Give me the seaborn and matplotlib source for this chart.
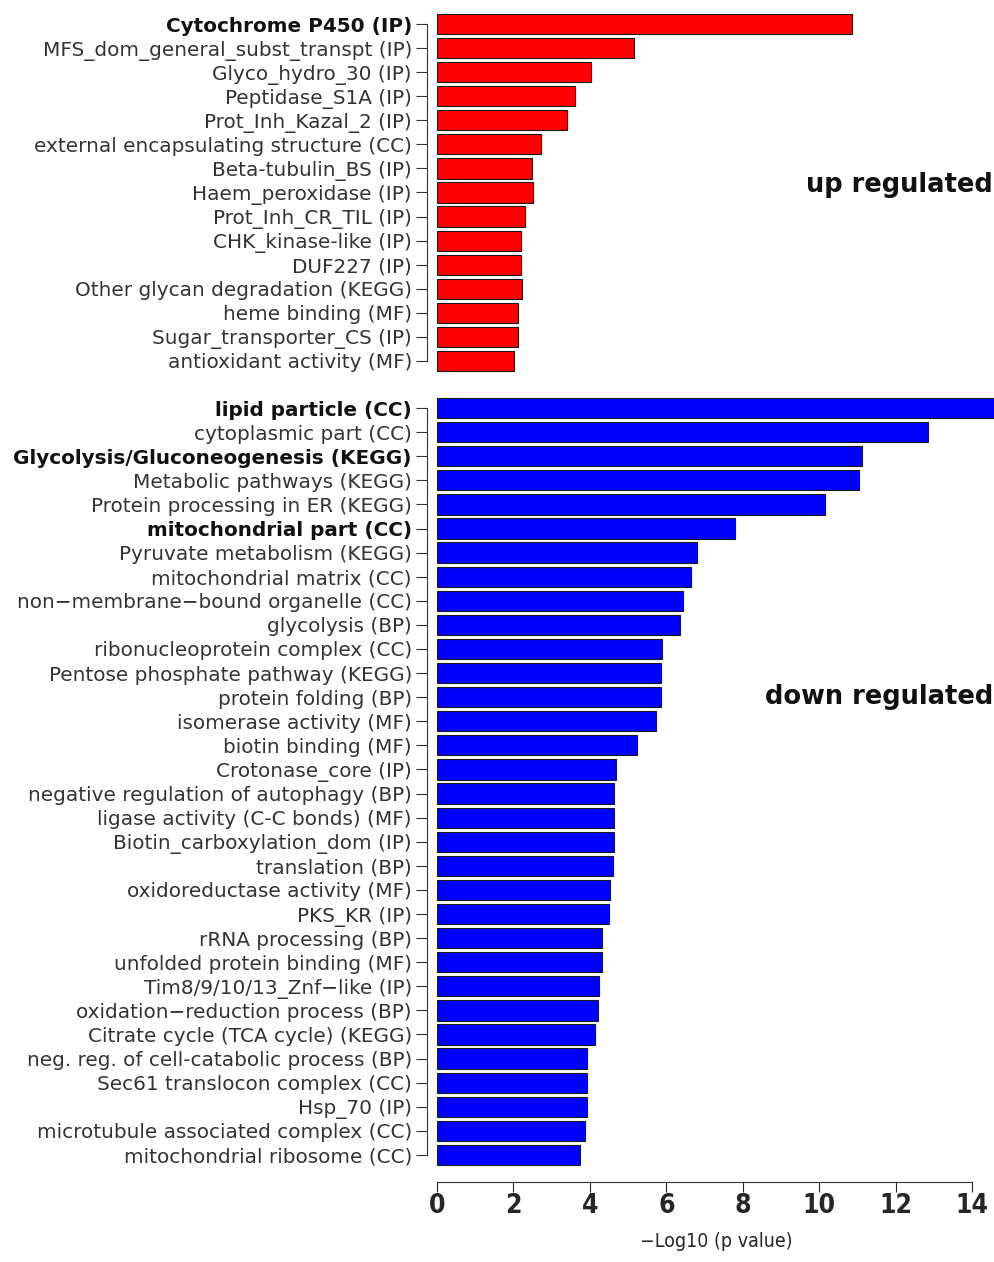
import numpy as np
import pandas as pd
import matplotlib.pyplot as plt
import seaborn as sns

# data
up_terms = ['Cytochrome P450 (IP)', 'MFS_dom_general_subst_transpt (IP)', 'Glyco_hydro_30 (IP)',
            'Peptidase_S1A (IP)', 'Prot_Inh_Kazal_2 (IP)', 'external encapsulating structure (CC)',
            'Beta-tubulin_BS (IP)', 'Haem_peroxidase (IP)', 'Prot_Inh_CR_TIL (IP)',
            'CHK_kinase-like (IP)', 'DUF227 (IP)', 'Other glycan degradation (KEGG)',
            'heme binding (MF)', 'Sugar_transporter_CS (IP)', 'antioxidant activity (MF)']
up_vals = [10.86, 5.16, 4.03, 3.60, 3.41, 2.73, 2.48, 2.50, 2.30, 2.20, 2.20, 2.22, 2.13, 2.13, 2.01]

down_terms = ['lipid particle (CC)', 'cytoplasmic part (CC)', 'Glycolysis/Gluconeogenesis (KEGG)',
              'Metabolic pathways (KEGG)', 'Protein processing in ER (KEGG)', 'mitochondrial part (CC)',
              'Pyruvate metabolism (KEGG)', 'mitochondrial matrix (CC)',
              'non\u2212membrane\u2212bound organelle (CC)', 'glycolysis (BP)',
              'ribonucleoprotein complex (CC)', 'Pentose phosphate pathway (KEGG)',
              'protein folding (BP)', 'isomerase activity (MF)', 'biotin binding (MF)',
              'Crotonase_core (IP)', 'negative regulation of autophagy (BP)',
              'ligase activity (C-C bonds) (MF)', 'Biotin_carboxylation_dom (IP)', 'translation (BP)',
              'oxidoreductase activity (MF)', 'PKS_KR (IP)', 'rRNA processing (BP)',
              'unfolded protein binding (MF)', 'Tim8/9/10/13_Znf\u2212like (IP)',
              'oxidation\u2212reduction process (BP)', 'Citrate cycle (TCA cycle) (KEGG)',
              'neg. reg. of cell-catabolic process (BP)', 'Sec61 translocon complex (CC)',
              'Hsp_70 (IP)', 'microtubule associated complex (CC)', 'mitochondrial ribosome (CC)']
down_vals = [14.9, 12.84, 11.12, 11.03, 10.14, 7.81, 6.81, 6.65, 6.44, 6.35, 5.88, 5.87, 5.85,
             5.74, 5.24, 4.69, 4.62, 4.62, 4.62, 4.61, 4.53, 4.49, 4.33, 4.31, 4.23, 4.21, 4.13,
             3.93, 3.93, 3.93, 3.88, 3.73]

bold_terms = ['Cytochrome P450 (IP)', 'lipid particle (CC)',
              'Glycolysis/Gluconeogenesis (KEGG)', 'mitochondrial part (CC)']

xticks = [0, 2, 4, 6, 8, 10, 12, 14]

sns.set_style('ticks')
plt.rcParams['font.family'] = ['DejaVu Sans']
plt.rcParams['text.color'] = '#222222'
plt.rcParams['axes.edgecolor'] = '#333333'

W, H = 995, 1262
fig = plt.figure(figsize=(W / 100, H / 100), dpi=100)
ax_up = fig.add_axes([437 / W, 1 - 373 / H, 558 / W, 361 / H])
ax_dn = fig.add_axes([437 / W, 1 - 1167 / H, 558 / W, 771 / H])

panels = [(ax_up, up_terms, up_vals, '#ff0000'), (ax_dn, down_terms, down_vals, '#0000ff')]
for ax, terms, vals, col in panels:
    df = pd.DataFrame({'term': terms, 'val': vals})
    sns.barplot(data=df, x='val', y='term', color=col, saturation=1, width=0.84,
                edgecolor='#1a1a1a', linewidth=0.8, ax=ax)
    n = len(terms)
    ax.set_xlim(0, 14.6)
    ax.set_ylim(n - 0.5, -0.5)
    ax.set_ylabel('')
    ax.set_xlabel('')
    for s in ['top', 'right']:
        ax.spines[s].set_visible(False)
    ax.spines['left'].set_position(('outward', 7))
    ax.spines['left'].set_bounds(0, n - 1)
    ax.spines['left'].set_linewidth(0.8)
    ax.tick_params(axis='y', length=8, width=0.8, pad=3, labelsize=14.4,
                   labelcolor='#333333', color='#333333')
    for lab in ax.get_yticklabels():
        if lab.get_text() in bold_terms:
            lab.set_fontweight('bold')
            lab.set_color('#111111')

ax_up.spines['bottom'].set_visible(False)
ax_up.tick_params(axis='x', bottom=False, labelbottom=False)

ax_dn.spines['bottom'].set_position(('outward', 11))
ax_dn.spines['bottom'].set_bounds(0, 14)
ax_dn.spines['bottom'].set_linewidth(0.8)
ax_dn.set_xticks(xticks)
ax_dn.set_xticklabels([str(t) for t in xticks], fontweight='bold', fontstretch='condensed',
                      fontsize=19)
ax_dn.tick_params(axis='x', length=7, width=0.8, pad=1)
ax_dn.set_xlabel('\u2212Log10 (p value)', fontstretch='condensed', fontsize=14, labelpad=9)

fig.text(993 / W, 1 - 185 / H, 'up regulated', ha='right', va='center',
         fontsize=18.5, fontweight='bold', color='#111111')
fig.text(993 / W, 1 - 697 / H, 'down regulated', ha='right', va='center',
         fontsize=18.5, fontweight='bold', color='#111111')

fig.savefig('out.png', dpi=100)
